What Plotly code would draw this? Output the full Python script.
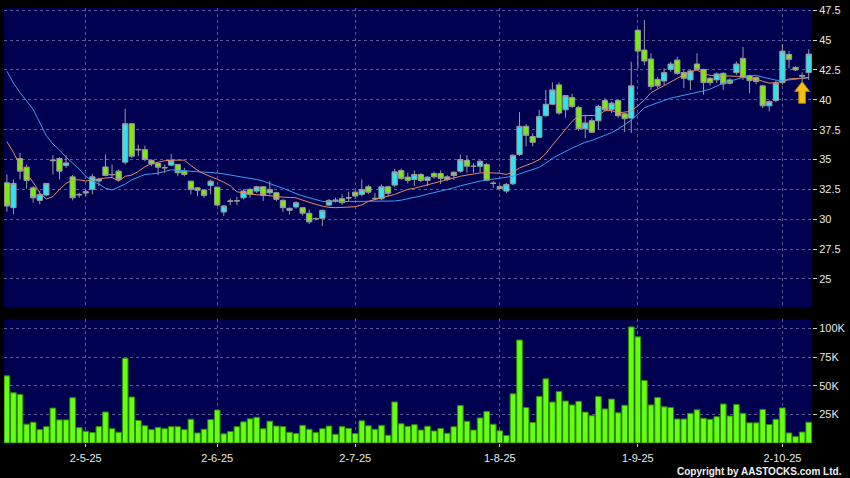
import plotly.graph_objects as go

# ---------------- data ----------------
opens = [33.05, 30.97, 35.08, 34.36, 32.63, 31.58, 32.03, 34.9, 35.08, 34.5,
         33.55, 32.03, 32.2, 32.5, 33.2, 34.38, 33.72, 34.03, 34.78, 38.0,
         35.8, 35.83, 34.94, 34.67, 34.3, 34.53, 34.58, 34.03, 33.19, 32.63,
         32.44, 32.83, 32.69, 30.61, 31.5, 31.53, 31.8, 32.5, 32.36, 32.72,
         32.22, 32.22, 31.58, 30.75, 31.03, 30.97, 30.5, 30.03, 30.08, 31.19,
         31.56, 31.72, 31.78, 32.27, 32.08, 32.72, 31.72, 31.72, 32.72, 32.86,
         34.08, 33.53, 33.33, 33.75, 33.25, 33.83, 33.83, 33.55, 33.94, 34.03,
         34.92, 34.42, 34.44, 34.58, 33.0, 32.75, 32.36, 32.97, 35.42, 37.78,
         36.94, 36.86, 38.67, 39.63, 41.25, 39.17, 40.19, 39.36, 37.58, 38.25,
         38.25, 39.94, 39.17, 39.94, 38.83, 38.47, 45.83, 44.17, 43.42, 41.72,
         41.58, 42.55, 43.33, 42.28, 41.67, 43.0, 42.55, 41.8, 41.67, 42.22,
         41.67, 42.28, 43.47, 42.03, 41.88, 41.17, 39.5, 39.94, 41.44, 43.8,
         42.72, 41.98, 42.28]
highs = [33.75, 33.33, 35.55, 34.58, 32.77, 32.36, 33.05, 35.36, 35.2, 35.36,
         33.69, 32.22, 32.5, 33.8, 33.47, 35.42, 34.58, 34.17, 39.25, 38.05,
         36.25, 36.17, 35.0, 34.72, 34.58, 35.47, 34.62, 34.3, 33.22, 32.66,
         32.48, 33.33, 32.72, 31.19, 31.75, 31.88, 32.5, 32.63, 32.8, 32.75,
         33.19, 32.3, 31.7, 30.97, 31.5, 31.0, 30.8, 30.15, 30.8, 31.7,
         31.8, 32.1, 32.3, 32.4, 33.33, 32.9, 32.2, 32.92, 32.8, 34.22,
         34.25, 33.9, 34.08, 33.85, 33.6, 34.0, 34.1, 33.7, 34.0, 35.42,
         35.36, 34.7, 34.95, 34.72, 33.19, 32.85, 33.05, 35.42, 38.97, 37.97,
         37.2, 39.17, 40.83, 41.47, 41.47, 40.4, 40.5, 39.5, 38.75, 38.47,
         39.58, 40.14, 39.86, 40.0, 38.9, 43.19, 45.9, 46.67, 43.9, 41.9,
         42.64, 43.19, 43.61, 42.5, 42.5, 43.89, 42.6, 41.9, 42.3, 42.3,
         41.8, 43.2, 44.44, 42.1, 41.95, 41.2, 39.95, 41.6, 44.64, 44.08,
         42.8, 42.3, 44.22]
lows = [30.63, 30.42, 33.33, 32.55, 31.38, 31.25, 31.94, 33.75, 33.33, 34.3,
        31.58, 31.8, 31.94, 32.08, 32.78, 33.6, 33.47, 33.19, 34.58, 35.13,
        35.28, 34.86, 34.44, 33.69, 33.89, 34.44, 33.6, 33.6, 32.08, 31.94,
        31.8, 32.08, 31.11, 30.28, 31.19, 31.19, 31.67, 31.8, 32.2, 31.53,
        32.08, 31.5, 30.6, 30.4, 30.9, 30.3, 29.6, 29.9, 29.44, 31.1,
        31.4, 31.2, 31.5, 31.7, 31.9, 32.1, 31.6, 31.6, 31.9, 32.7,
        33.3, 33.0, 32.78, 33.1, 32.78, 33.4, 32.95, 33.2, 33.3, 33.9,
        33.9, 33.9, 33.95, 33.2, 32.63, 32.5, 32.2, 32.85, 35.3, 36.11,
        36.11, 36.8, 38.61, 39.55, 38.75, 38.5, 39.3, 37.4, 36.8, 37.22,
        37.5, 39.03, 38.9, 38.5, 37.3, 37.22, 42.64, 42.9, 40.83, 41.0,
        41.25, 42.36, 42.1, 40.97, 40.83, 42.5, 40.42, 41.2, 41.4, 40.83,
        41.3, 42.1, 41.67, 40.56, 41.3, 39.3, 39.03, 39.8, 41.25, 42.64,
        42.4, 41.53, 41.67]
closes = [31.11, 33.0, 34.03, 33.25, 31.8, 32.08, 33.0, 34.95, 34.03, 34.72,
          31.8, 32.08, 32.3, 33.55, 33.33, 33.67, 33.75, 33.33, 38.0, 35.28,
          35.85, 35.0, 34.63, 34.36, 34.32, 34.92, 33.89, 33.75, 32.5, 32.42,
          32.0, 33.19, 31.19, 31.11, 31.53, 31.55, 32.36, 32.08, 32.72, 32.0,
          32.5, 31.67, 30.97, 30.92, 31.39, 30.5, 29.78, 30.06, 30.75, 31.58,
          31.6, 31.39, 31.8, 31.94, 32.5, 32.27, 31.75, 32.72, 32.17, 33.97,
          33.42, 33.25, 33.75, 33.25, 33.53, 33.55, 33.42, 33.33, 33.67, 35.0,
          34.44, 34.44, 34.86, 33.25, 33.02, 32.58, 32.92, 35.36, 37.78, 37.03,
          36.44, 38.61, 39.63, 40.83, 38.89, 40.36, 39.44, 37.58, 38.06, 37.28,
          39.44, 39.17, 39.72, 38.67, 38.42, 41.17, 44.08, 43.25, 41.11, 41.17,
          42.28, 43.0, 42.22, 41.8, 42.42, 42.55, 41.44, 41.44, 42.17, 41.33,
          41.39, 43.0, 41.88, 41.61, 41.53, 39.5, 39.86, 41.39, 44.08, 43.39,
          42.5, 42.02, 43.83]
ma_short = [36.5, 35.6, 34.5, 33.8, 33.1, 32.2, 31.7, 31.9, 32.5, 33.0,
            33.3, 33.3, 33.2, 33.3, 33.4, 33.45, 33.5, 33.2, 33.6, 33.7,
            34.0, 34.4, 34.65, 34.8, 34.9, 34.95, 34.97, 34.95, 34.5, 34.1,
            33.8, 33.6, 33.35, 33.1, 32.8, 32.3, 32.2, 32.1, 32.05, 32.03,
            31.95, 31.88, 31.85, 31.83, 31.8, 31.6, 31.4, 31.25, 31.1, 31.0,
            30.97, 30.98, 31.0, 31.05, 31.2, 31.5, 31.65, 31.8, 31.95, 32.08,
            32.3, 32.5, 32.6, 32.75, 32.9, 33.0, 33.2, 33.35, 33.5, 33.6,
            33.7, 33.8, 33.88, 33.9, 33.9, 33.85, 33.75, 33.95, 34.3, 34.5,
            34.72, 35.0, 35.5, 36.2, 36.9, 37.6, 38.2, 38.67, 38.67, 38.67,
            38.7, 39.1, 39.1, 38.9, 38.95, 39.05, 39.5, 40.0, 40.6, 40.9,
            41.2, 41.55, 41.8, 42.1, 42.35, 42.5, 42.2, 42.05, 42.03, 42.03,
            42.0, 41.97, 41.94, 41.85, 41.75, 41.55, 41.4, 41.45, 41.53, 41.75,
            41.8, 41.8, 41.85]
ma_long = [42.4, 41.4, 40.6, 39.9, 39.2, 38.1, 37.0, 36.3, 35.8, 35.2,
           34.7, 34.2, 33.6, 33.2, 32.95, 32.6, 32.45, 32.7, 32.95, 33.3,
           33.55, 33.75, 33.8, 33.85, 34.0, 34.15, 34.1, 34.05, 34.0, 33.97,
           33.94, 33.92, 33.89, 33.8, 33.7, 33.62, 33.53, 33.43, 33.33, 33.2,
           32.97, 32.78, 32.6, 32.36, 32.15, 31.95, 31.8, 31.65, 31.5, 31.47,
           31.47, 31.47, 31.47, 31.47, 31.47, 31.47, 31.48, 31.5, 31.5, 31.53,
           31.6, 31.7, 31.8, 31.95, 32.1, 32.22, 32.35, 32.5, 32.63, 32.8,
           32.95, 33.1, 33.2, 33.28, 33.35, 33.4, 33.47, 33.6, 33.8, 34.0,
           34.2, 34.35, 34.7, 35.1, 35.4, 35.7, 35.97, 36.2, 36.45, 36.6,
           36.8, 37.0, 37.25, 37.55, 37.9, 38.3, 38.8, 39.35, 39.55, 39.72,
           39.95, 40.14, 40.25, 40.36, 40.5, 40.6, 40.75, 40.9, 41.15, 41.4,
           41.55, 41.75, 41.9, 42.03, 42.05, 41.9, 41.75, 41.65, 41.6, 41.65,
           41.75, 41.8, 41.86]
volumes_k = [58.7, 43.9, 42.5, 16.5, 18.2, 11.7, 14.3, 30.5, 20.2, 20.2,
             39.6, 13.4, 10.3, 9.1, 14.3, 27.1, 12.5, 9.4, 74.1, 40.2,
             19.7, 15.1, 11.7, 13.7, 12.5, 14.3, 14.3, 11.7, 20.8, 8.8,
             12.0, 20.5, 28.8, 8.0, 10.0, 14.3, 18.5, 21.1, 22.5, 12.5,
             19.1, 14.8, 14.3, 9.4, 8.3, 15.4, 12.0, 9.1, 12.5, 14.8,
             7.7, 14.3, 12.8, 8.3, 19.4, 15.1, 12.0, 15.4, 6.8, 35.9,
             16.8, 14.5, 16.0, 11.3, 14.7, 10.5, 12.7, 8.5, 14.2, 32.7,
             19.0, 11.3, 21.9, 27.6, 16.4, 10.7, 6.5, 43.0, 90.0, 31.0,
             17.9, 40.7, 56.1, 35.8, 45.0, 36.7, 33.3, 36.4, 27.0, 23.9,
             40.7, 29.8, 38.4, 26.4, 33.0, 101.5, 92.8, 54.6, 33.3, 39.8,
             31.6, 31.0, 21.0, 21.0, 25.9, 29.0, 21.6, 20.7, 23.0, 34.1,
             23.6, 33.6, 25.9, 17.6, 17.6, 29.3, 16.2, 20.7, 30.7, 8.8,
             5.6, 9.6, 18.2]
marked_bar = 121  # bar flagged by the yellow arrow

x_tick_bars = [12, 32, 53, 75, 96, 118]
x_tick_text = ["2-5-25", "2-6-25", "2-7-25", "1-8-25", "1-9-25", "2-10-25"]
price_ticks = [25, 27.5, 30, 32.5, 35, 37.5, 40, 42.5, 45, 47.5]
price_tick_text = ["25", "27.5", "30", "32.5", "35", "37.5", "40", "42.5", "45", "47.5"]
vol_ticks = [25000, 50000, 75000, 100000]
vol_tick_text = ["25K", "50K", "75K", "100K"]

# ---------------- figure ----------------
bars = list(range(len(opens)))
volumes = [v * 1000 for v in volumes_k]

PLOT_BG = "#000050"
GRID = "#5a5a94"
TXT = "#e8e8e8"
FONT = "Liberation Sans"

fig = go.Figure()
fig.add_trace(go.Candlestick(
    x=bars, open=opens, high=highs, low=lows, close=closes,
    increasing=dict(fillcolor="#2fe3f0", line=dict(color="#9c9c9c", width=1)),
    decreasing=dict(fillcolor="#7bea12", line=dict(color="#9c9c9c", width=1)),
    whiskerwidth=0, xaxis="x", yaxis="y", showlegend=False, hoverinfo="skip"))
fig.add_trace(go.Scatter(x=bars, y=ma_long, mode="lines",
                         line=dict(color="#3b9df2", width=1),
                         xaxis="x", yaxis="y", showlegend=False, hoverinfo="skip"))
fig.add_trace(go.Scatter(x=bars, y=ma_short, mode="lines",
                         line=dict(color="#e58a62", width=1),
                         xaxis="x", yaxis="y", showlegend=False, hoverinfo="skip"))
fig.add_trace(go.Bar(x=bars, y=volumes,
                     marker=dict(color="#66ff14", line=dict(color="#2f8a00", width=1)),
                     xaxis="x2", yaxis="y2", showlegend=False, hoverinfo="skip"))

# yellow arrow under the marked bar (built from that bar's data)
tip_x = bars[marked_bar]
tip_y = lows[marked_bar]
hw, sw, hh, tl = 1.15, 0.52, 0.83, 1.82
path = (f"M {tip_x} {tip_y} L {tip_x + hw} {tip_y - hh} L {tip_x + sw} {tip_y - hh} "
        f"L {tip_x + sw} {tip_y - tl} L {tip_x - sw} {tip_y - tl} L {tip_x - sw} {tip_y - hh} "
        f"L {tip_x - hw} {tip_y - hh} Z")
fig.add_shape(type="path", path=path, xref="x", yref="y",
              fillcolor="#f4be12", line=dict(color="#b07a00", width=1), layer="above")

xrange = [-0.44, 122.5]
axis_common = dict(showline=False, zeroline=False, gridcolor=GRID, griddash="3px,3px", gridwidth=1)

fig.update_layout(
    width=850, height=478,
    margin=dict(l=4, r=37, t=6, b=35),
    paper_bgcolor="#000000", plot_bgcolor=PLOT_BG,
    font=dict(family=FONT, size=11, color=TXT),
    bargap=0.14, boxgap=0.2, boxgroupgap=0,
    xaxis=dict(domain=[0, 1], range=xrange, anchor="y", tickvals=x_tick_bars,
               showticklabels=False, rangeslider=dict(visible=False), showgrid=True,
               ticks="", **axis_common),
    yaxis=dict(domain=[0.312, 1], range=[22.63, 47.69], side="right", anchor="x",
               tickvals=price_ticks, ticktext=price_tick_text, ticks="outside",
               ticklen=4, tickcolor="#cfcfcf", tickfont=dict(size=11, color=TXT),
               showgrid=True, **axis_common),
    xaxis2=dict(domain=[0, 1], range=xrange, anchor="y2", tickvals=x_tick_bars,
                ticktext=x_tick_text, ticks="outside", ticklen=3, tickcolor="#cfcfcf",
                ticklabelstandoff=2,
                tickfont=dict(size=11, color=TXT), showgrid=True, **axis_common),
    yaxis2=dict(domain=[0, 0.284], range=[0, 108000], side="right", anchor="x2",
                tickvals=vol_ticks, ticktext=vol_tick_text, ticks="outside",
                ticklen=4, tickcolor="#cfcfcf", tickfont=dict(size=11, color=TXT),
                showgrid=True, **axis_common),
    annotations=[dict(text="<b>Copyright by AASTOCKS.com Ltd.</b>", xref="paper", yref="paper",
                      x=1.0396, y=-0.066, xanchor="right", yanchor="middle", showarrow=False,
                      font=dict(family=FONT, size=10, color="#f0f0f0"))],
)

fig.write_html("out.html", config={"displayModeBar": False},
               post_script="document.body.style.margin='0';document.body.style.background='#000';")
